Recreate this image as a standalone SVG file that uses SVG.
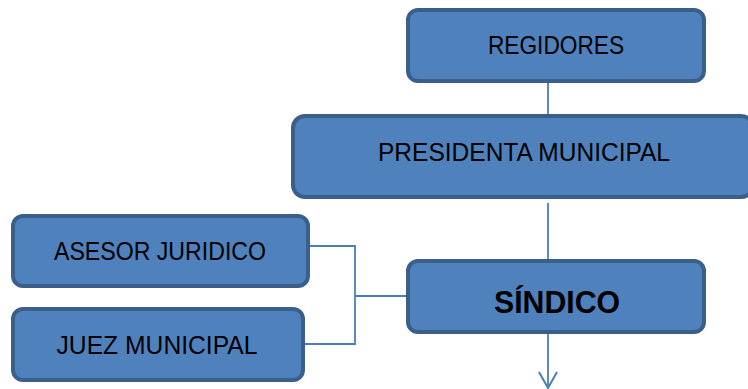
<svg xmlns="http://www.w3.org/2000/svg" width="748" height="389" viewBox="0 0 748 389">
<defs>
<style>
.box{fill:#4f81bd;stroke:#3a5f8b;stroke-width:4}
.t{font-family:"Liberation Sans",Arial,sans-serif;font-size:26px;fill:#000;text-anchor:middle}
.b{font-family:"Liberation Sans",Arial,sans-serif;font-size:32px;font-weight:bold;fill:#000;text-anchor:middle}
.ln{fill:none;stroke:#4a7ebb;stroke-width:1.8}
</style>
<marker id="arr" markerWidth="20" markerHeight="22" refX="17" refY="10" orient="auto" markerUnits="userSpaceOnUse" viewBox="0 0 20 22">
<path d="M1,1 L17,10 L1,19" fill="none" stroke="#4a7ebb" stroke-width="2"/>
</marker>
</defs>
<rect width="748" height="389" fill="#fff"/>
<g id="connectors">
<line class="ln" x1="548" y1="82" x2="548" y2="116"/>
<line class="ln" x1="548" y1="203" x2="548" y2="260"/>
<line class="ln" x1="548" y1="334" x2="548" y2="388" marker-end="url(#arr)"/>
<polyline class="ln" points="309,246 355,246 355,344 304,344"/>
<line class="ln" x1="355" y1="296" x2="408" y2="296"/>
</g>
<g id="regidores">
<rect class="box" x="408" y="10" width="296" height="71" rx="10"/>
<text class="t" x="556" y="54" textLength="136" lengthAdjust="spacingAndGlyphs">REGIDORES</text>
</g>
<g id="presidenta">
<rect class="box" x="293" y="116" width="460" height="81" rx="12"/>
<text class="t" x="524" y="161" textLength="292" lengthAdjust="spacingAndGlyphs">PRESIDENTA MUNICIPAL</text>
</g>
<g id="sindico">
<rect class="box" x="408" y="261" width="296" height="71" rx="10"/>
<text class="b" x="557" y="313" textLength="126" lengthAdjust="spacingAndGlyphs">SÍNDICO</text>
</g>
<g id="asesor">
<rect class="box" x="13" y="216" width="295" height="70" rx="10"/>
<text class="t" x="160" y="260" textLength="212" lengthAdjust="spacingAndGlyphs">ASESOR JURIDICO</text>
</g>
<g id="juez">
<rect class="box" x="13" y="309" width="290" height="71" rx="10"/>
<text class="t" x="157" y="354" textLength="201" lengthAdjust="spacingAndGlyphs">JUEZ MUNICIPAL</text>
</g>
</svg>
